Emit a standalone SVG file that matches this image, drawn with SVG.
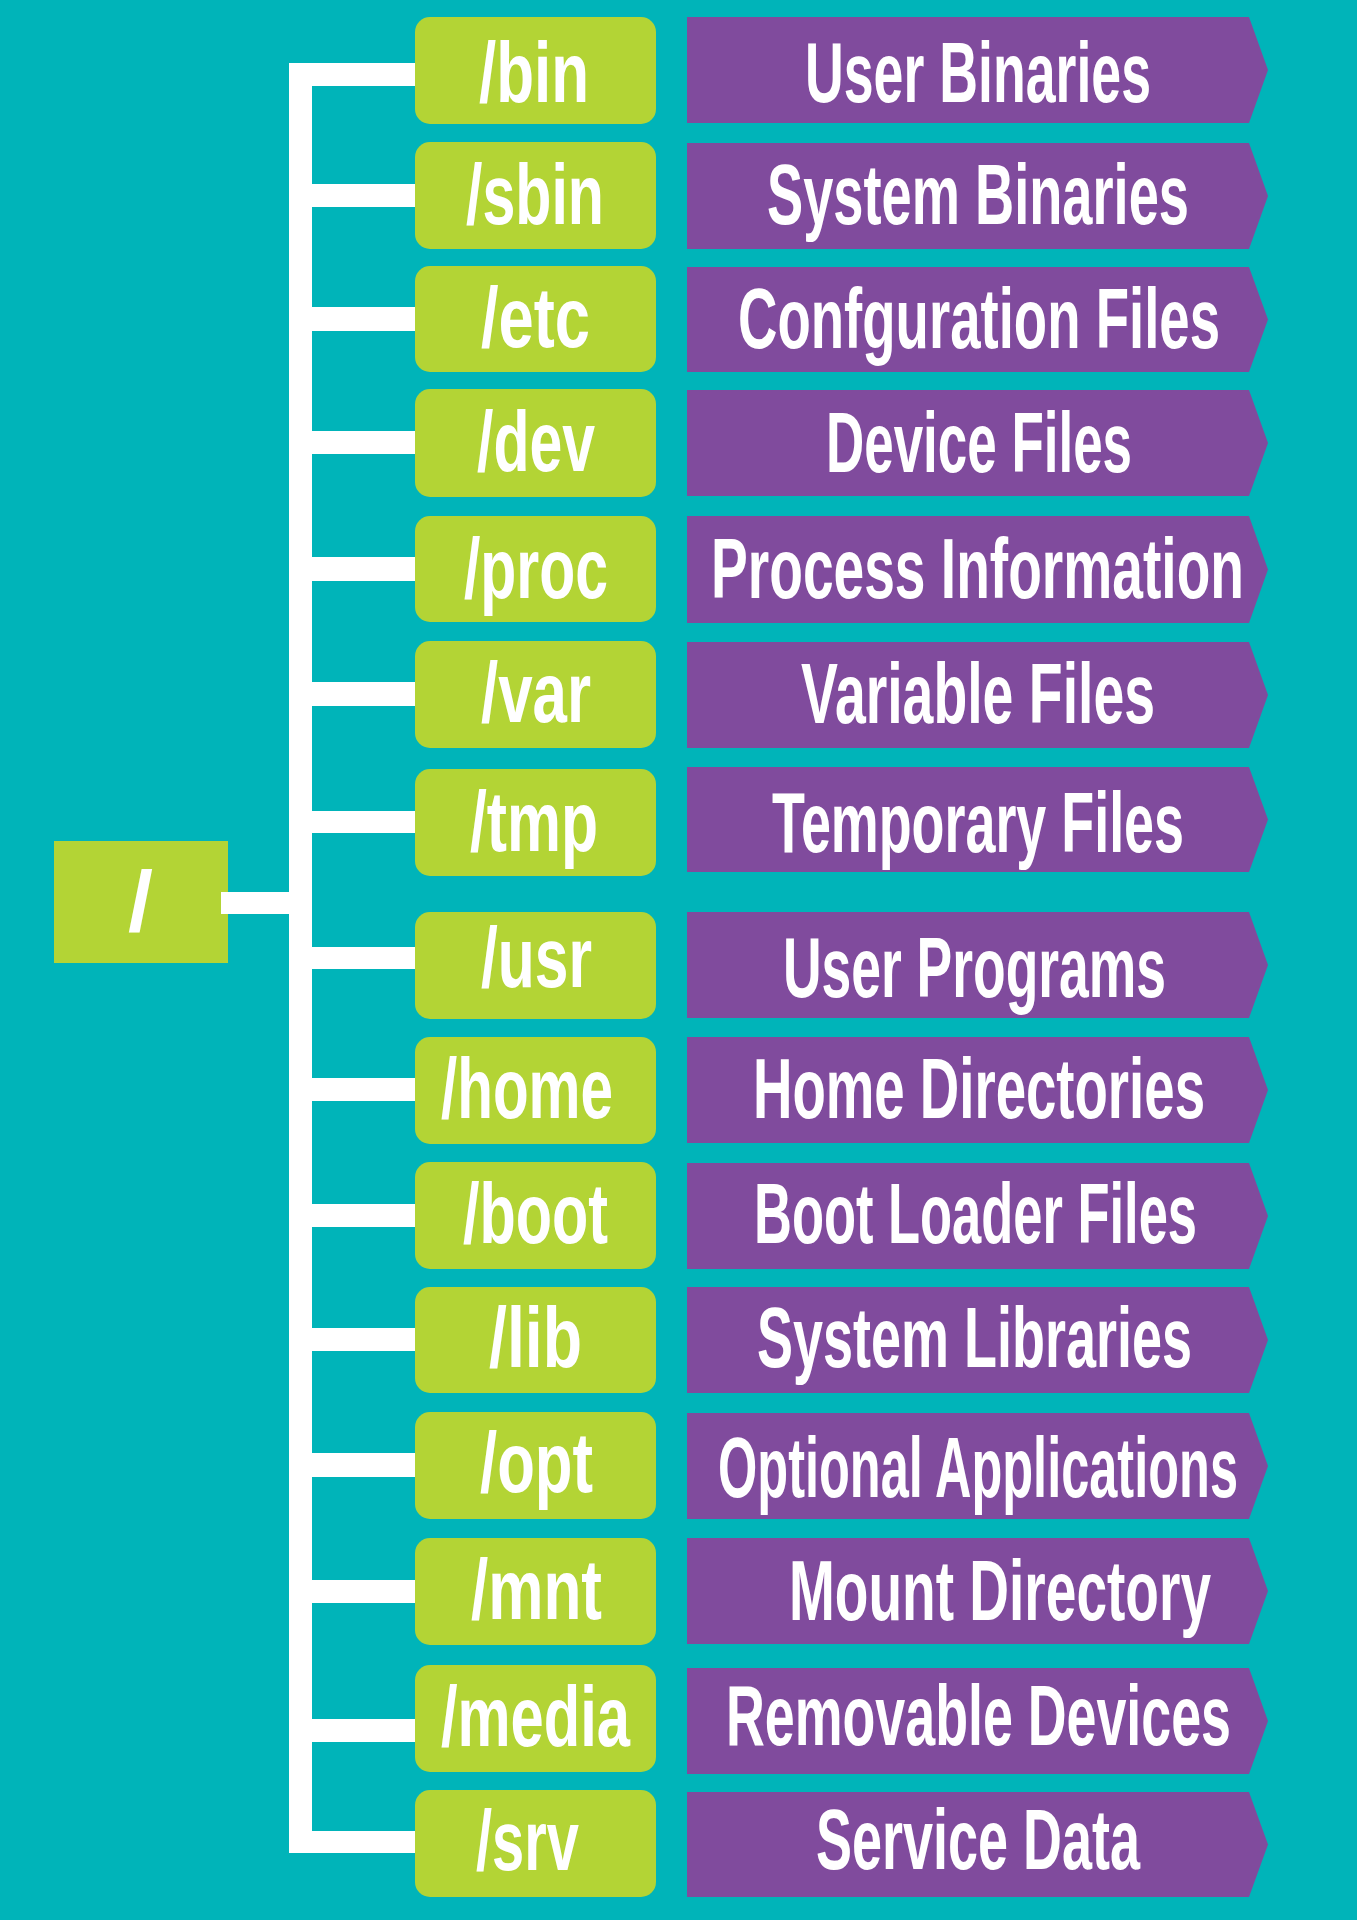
<svg xmlns="http://www.w3.org/2000/svg" width="1357" height="1920" viewBox="0 0 1357 1920">
<style>
.bg{fill:#00B4B9}
.g{fill:#B3D435}
.p{fill:#804B9D}
.w{fill:#FFFFFF}
.t{font-family:"Liberation Sans",Arial,sans-serif;font-weight:bold;font-size:85px;fill:#FFFFFF}
</style>
<rect class="bg" x="0" y="0" width="1357" height="1920"/>
<g id="connectors" class="w">
<rect x="289" y="63" width="23" height="1790"/>
<rect x="221" y="892" width="91" height="22"/>
<rect x="289" y="63" width="127" height="23"/>
<rect x="289" y="184" width="127" height="23"/>
<rect x="289" y="307" width="127" height="24"/>
<rect x="289" y="431" width="127" height="23"/>
<rect x="289" y="557" width="127" height="24"/>
<rect x="289" y="682" width="127" height="24"/>
<rect x="289" y="811" width="127" height="22"/>
<rect x="289" y="947" width="127" height="22"/>
<rect x="289" y="1078" width="127" height="23"/>
<rect x="289" y="1204" width="127" height="23"/>
<rect x="289" y="1328" width="127" height="23"/>
<rect x="289" y="1453" width="127" height="24"/>
<rect x="289" y="1580" width="127" height="23"/>
<rect x="289" y="1719" width="127" height="23"/>
<rect x="289" y="1831" width="127" height="22"/>
</g>
<g id="root">
<rect class="g" x="54" y="841" width="174" height="122"/>
<rect class="w" x="221" y="892" width="8" height="22"/>
<text class="t" x="128" y="931" textLength="25" lengthAdjust="spacingAndGlyphs">/</text>
</g>
<g id="bin">
<rect class="g" x="415" y="17" width="241" height="107" rx="15"/>
<text class="t" x="479" y="102" textLength="110" lengthAdjust="spacingAndGlyphs">/bin</text>
<polygon class="p" points="687,17 1249,17 1268,70 1249,123 687,123"/>
<text class="t" x="805" y="102" textLength="346" lengthAdjust="spacingAndGlyphs">User Binaries</text>
</g>
<g id="sbin">
<rect class="g" x="415" y="142" width="241" height="107" rx="15"/>
<text class="t" x="466" y="224" textLength="138" lengthAdjust="spacingAndGlyphs">/sbin</text>
<polygon class="p" points="687,143 1249,143 1268,196 1249,249 687,249"/>
<text class="t" x="767" y="224" textLength="422" lengthAdjust="spacingAndGlyphs">System Binaries</text>
</g>
<g id="etc">
<rect class="g" x="415" y="266" width="241" height="106" rx="15"/>
<text class="t" x="481" y="347" textLength="109" lengthAdjust="spacingAndGlyphs">/etc</text>
<polygon class="p" points="687,267 1249,267 1268,319.5 1249,372 687,372"/>
<text class="t" x="738" y="348" textLength="482" lengthAdjust="spacingAndGlyphs">Confguration Files</text>
</g>
<g id="dev">
<rect class="g" x="415" y="389" width="241" height="108" rx="15"/>
<text class="t" x="477" y="471" textLength="118" lengthAdjust="spacingAndGlyphs">/dev</text>
<polygon class="p" points="687,390 1249,390 1268,443 1249,496 687,496"/>
<text class="t" x="826" y="472" textLength="306" lengthAdjust="spacingAndGlyphs">Device Files</text>
</g>
<g id="proc">
<rect class="g" x="415" y="516" width="241" height="106" rx="15"/>
<text class="t" x="464" y="598" textLength="144" lengthAdjust="spacingAndGlyphs">/proc</text>
<polygon class="p" points="687,516 1249,516 1268,569.5 1249,623 687,623"/>
<text class="t" x="711" y="598" textLength="533" lengthAdjust="spacingAndGlyphs">Process Information</text>
</g>
<g id="var">
<rect class="g" x="415" y="641" width="241" height="107" rx="15"/>
<text class="t" x="481" y="722" textLength="110" lengthAdjust="spacingAndGlyphs">/var</text>
<polygon class="p" points="687,642 1249,642 1268,695 1249,748 687,748"/>
<text class="t" x="801" y="723" textLength="354" lengthAdjust="spacingAndGlyphs">Variable Files</text>
</g>
<g id="tmp">
<rect class="g" x="415" y="769" width="241" height="107" rx="15"/>
<text class="t" x="470" y="851" textLength="128" lengthAdjust="spacingAndGlyphs">/tmp</text>
<polygon class="p" points="687,767 1249,767 1268,819.5 1249,872 687,872"/>
<text class="t" x="772" y="852" textLength="412" lengthAdjust="spacingAndGlyphs">Temporary Files</text>
</g>
<g id="usr">
<rect class="g" x="415" y="912" width="241" height="107" rx="15"/>
<text class="t" x="481" y="987" textLength="111" lengthAdjust="spacingAndGlyphs">/usr</text>
<polygon class="p" points="687,912 1249,912 1268,965 1249,1018 687,1018"/>
<text class="t" x="783" y="997" textLength="383" lengthAdjust="spacingAndGlyphs">User Programs</text>
</g>
<g id="home">
<rect class="g" x="415" y="1037" width="241" height="107" rx="15"/>
<text class="t" x="441" y="1118" textLength="172" lengthAdjust="spacingAndGlyphs">/home</text>
<polygon class="p" points="687,1037 1249,1037 1268,1090 1249,1143 687,1143"/>
<text class="t" x="753" y="1118" textLength="452" lengthAdjust="spacingAndGlyphs">Home Directories</text>
</g>
<g id="boot">
<rect class="g" x="415" y="1162" width="241" height="107" rx="15"/>
<text class="t" x="463" y="1243" textLength="145" lengthAdjust="spacingAndGlyphs">/boot</text>
<polygon class="p" points="687,1163 1249,1163 1268,1216 1249,1269 687,1269"/>
<text class="t" x="754" y="1243" textLength="443" lengthAdjust="spacingAndGlyphs">Boot Loader Files</text>
</g>
<g id="lib">
<rect class="g" x="415" y="1287" width="241" height="106" rx="15"/>
<text class="t" x="489" y="1367" textLength="93" lengthAdjust="spacingAndGlyphs">/lib</text>
<polygon class="p" points="687,1287 1249,1287 1268,1340 1249,1393 687,1393"/>
<text class="t" x="757" y="1367" textLength="435" lengthAdjust="spacingAndGlyphs">System Libraries</text>
</g>
<g id="opt">
<rect class="g" x="415" y="1412" width="241" height="107" rx="15"/>
<text class="t" x="480" y="1492" textLength="113" lengthAdjust="spacingAndGlyphs">/opt</text>
<polygon class="p" points="687,1413 1249,1413 1268,1466 1249,1519 687,1519"/>
<text class="t" x="718" y="1497" textLength="520" lengthAdjust="spacingAndGlyphs">Optional Applications</text>
</g>
<g id="mnt">
<rect class="g" x="415" y="1538" width="241" height="107" rx="15"/>
<text class="t" x="471" y="1619" textLength="131" lengthAdjust="spacingAndGlyphs">/mnt</text>
<polygon class="p" points="687,1538 1249,1538 1268,1591 1249,1644 687,1644"/>
<text class="t" x="789" y="1620" textLength="422" lengthAdjust="spacingAndGlyphs">Mount Directory</text>
</g>
<g id="media">
<rect class="g" x="415" y="1665" width="241" height="107" rx="15"/>
<text class="t" x="441" y="1746" textLength="189" lengthAdjust="spacingAndGlyphs">/media</text>
<polygon class="p" points="687,1668 1249,1668 1268,1721 1249,1774 687,1774"/>
<text class="t" x="726" y="1745" textLength="505" lengthAdjust="spacingAndGlyphs">Removable Devices</text>
</g>
<g id="srv">
<rect class="g" x="415" y="1790" width="241" height="107" rx="15"/>
<text class="t" x="476" y="1870" textLength="103" lengthAdjust="spacingAndGlyphs">/srv</text>
<polygon class="p" points="687,1792 1249,1792 1268,1844.5 1249,1897 687,1897"/>
<text class="t" x="816" y="1869" textLength="324" lengthAdjust="spacingAndGlyphs">Service Data</text>
</g>
</svg>
